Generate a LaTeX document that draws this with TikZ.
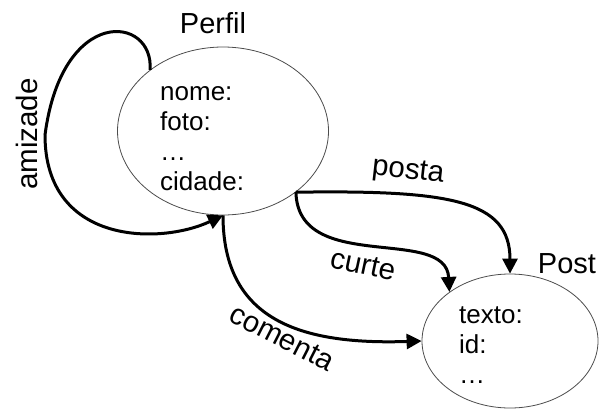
\documentclass[tikz,border=0pt]{standalone}
\usepackage{fontspec}
\setmainfont{Liberation Sans}
\usetikzlibrary{arrows.meta,shapes.geometric}

\begin{document}
\begin{tikzpicture}[
    x=1pt, y=-1pt,
    >={Triangle[length=15pt,width=15pt]},
    entity/.style={
		ellipse,
		draw=black!70,
		line width=0.8pt,
		inner sep=0pt
	},
	attr/.style={
		font=\fontsize{26}{30}\selectfont,
		align=left,
		inner sep=0pt
	},
	title/.style={
		font=\fontsize{29}{34}\selectfont,
		inner sep=0pt
	},
	rel/.style={
		line width=3pt
	},
	reltext/.style={
		font=\fontsize{29.5}{34}\selectfont,
		inner sep=0pt
	}
  ]
  \useasboundingbox (0,0) rectangle (599,410);
    % We start by placing the entities

  \node [entity, minimum width=211pt, minimum height=168pt] (perfil) at (223,131) {};
  \node [title, anchor=base] (perfiltitle) at (213,33) {Perfil};
  \node [attr, anchor=base west] (perfilattr) at (160,190) {nome:\\foto:\\…\\cidade:};

  \node [entity, minimum width=176pt, minimum height=134pt] (post) at (510,341) {};
  \node [title, anchor=base] (posttitle) at (567,273) {Post};
  \node [attr, anchor=base west] (postattr) at (459,383) {texto:\\id:\\…};

  % then the relations
 \draw [rel,->] (perfil.140) .. controls (154,15) and (62,5) .. (45,135)
   .. controls (45,245) and (160,245) .. (perfil.south);
 \draw [rel,->] (perfil.-40) .. controls (450,190) and (510,200) .. (post.north);
 \draw [rel,->] (perfil.-40) .. controls (298,275) and (446,225) .. (post.141);
 \draw [rel,->] (perfil.south) .. controls (223,320) and (300,345) .. (post.west);

 \node [reltext, rotate=90] (amizadetext) at (27,134) {amizade};
 \node [reltext, rotate=-6.5] (postatext) at (408,172) {posta};
 \node [reltext, rotate=-12] (curtetext) at (363,265) {curte};
 \node [reltext, rotate=-27] (comentatext) at (282,338) {comenta};

\end{tikzpicture}
\end{document}
